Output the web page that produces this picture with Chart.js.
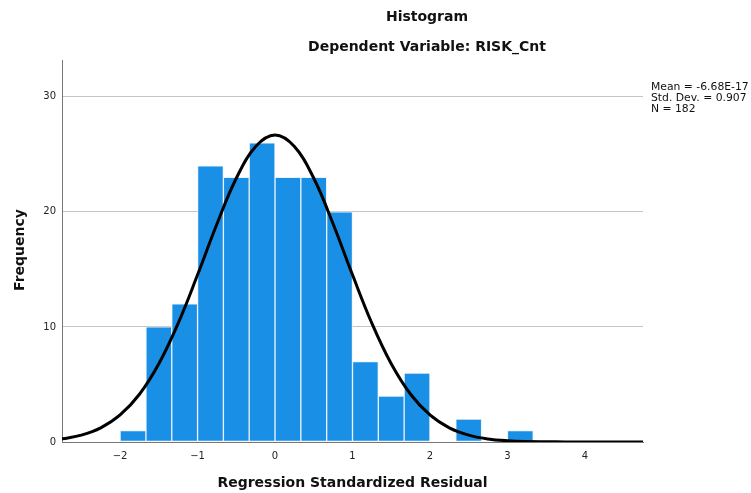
<!DOCTYPE html>
<html lang="en">
<head>
    <meta charset="UTF-8">
    <title>Histogram</title>
    <script src="https://cdn.jsdelivr.net/npm/chart.js"></script>
    <style>
        body {
            margin: 0;
            background: #ffffff;
        }
        #wrap {
            width: 751px;
            height: 493px;
            position: relative;
        }
    </style>
</head>
<body>
    <div id="wrap"><canvas id="hist" width="751" height="493"></canvas></div>

    <script>
        // histogram bins (width 1/3), centres and counts
        const binCenters = [-1.8333, -1.5, -1.1667, -0.8333, -0.5, -0.1667, 0.1667, 0.5,
                            0.8333, 1.1667, 1.5, 1.8333, 2.1667, 2.5, 2.8333, 3.1667];
        const binCounts = [1, 10, 12, 24, 23, 26, 23, 23, 20, 7, 4, 6, 0, 2, 0, 1];

        // normal curve
        const curveX = [-2.75, -2.5, -2.25, -2, -1.75, -1.5, -1.25, -1, -0.75, -0.5, -0.25, 0,
                        0.25, 0.5, 0.75, 1, 1.25, 1.5, 1.75, 2, 2.25, 2.5, 2.75, 3, 3.25,
                        3.5, 3.75, 4, 4.25, 4.5, 4.75];
        const curveY = [0.27, 0.6, 1.23, 2.35, 4.15, 6.8, 10.32, 14.53, 18.95, 22.92, 25.68, 26.68,
                        25.68, 22.92, 18.95, 14.53, 10.32, 6.8, 4.15, 2.35, 1.23, 0.6, 0.27, 0.11, 0.04,
                        0.02, 0.01, 0, 0, 0, 0];

        const xTicks = [-2, -1, 0, 1, 2, 3, 4];
        const yTicks = [0, 10, 20, 30];
        const statsLines = ["Mean = -6.68E-17", "Std. Dev. = 0.907", "N = 182"];

        const FONT = "'DejaVu Sans', sans-serif";

        // titles and the stats box
        const textPlugin = {
            id: "spssText",
            afterDraw(chart) {
                const ctx = chart.ctx;
                const area = chart.chartArea;
                ctx.save();
                ctx.fillStyle = "#111";
                ctx.textAlign = "center";
                ctx.textBaseline = "middle";
                ctx.font = "bold 14px " + FONT;
                ctx.fillText("Histogram", 427, 17);
                ctx.fillText("Dependent Variable: RISK_Cnt", 427, 47);

                ctx.fillText("Regression Standardized Residual", (area.left + area.right) / 2, 483);

                ctx.save();
                ctx.translate(20, 250);
                ctx.rotate(-Math.PI / 2);
                ctx.fillText("Frequency", 0, 0);
                ctx.restore();

                ctx.textAlign = "left";
                ctx.font = "10.8px " + FONT;
                statsLines.forEach((s, i) => {
                    ctx.fillText(s, 651, 87 + i * 11);
                });
                ctx.restore();
            }
        };

        const ctx = document.getElementById("hist").getContext("2d");
        new Chart(ctx, {
            type: "bar",
            data: {
                datasets: [
                    {
                        type: "line",
                        data: curveX.map((x, i) => ({ x: x, y: curveY[i] })),
                        borderColor: "#000000",
                        borderWidth: 3,
                        pointRadius: 0,
                        tension: 0.4,
                        fill: false,
                        order: 0
                    },
                    {
                        type: "bar",
                        data: binCenters.map((x, i) => ({ x: x, y: binCounts[i] })),
                        backgroundColor: "#1a8fe6",
                        borderColor: "#e8f2fb",
                        borderWidth: 1,
                        borderSkipped: false,
                        barPercentage: 1,
                        categoryPercentage: 1,
                        order: 1
                    }
                ]
            },
            options: {
                responsive: false,
                animation: false,
                events: [],
                layout: { padding: { top: 60, right: 108, left: 0, bottom: 0 } },
                plugins: {
                    legend: { display: false },
                    tooltip: { enabled: false }
                },
                scales: {
                    x: {
                        type: "linear",
                        offset: false,
                        min: -2.75,
                        max: 4.75,
                        afterBuildTicks(scale) {
                            scale.ticks = xTicks.map(v => ({ value: v }));
                        },
                        afterFit(scale) { scale.height = 51; },
                        grid: { display: false, drawTicks: false },
                        border: { color: "#777", width: 1 },
                        ticks: {
                            color: "#222",
                            padding: 8,
                            font: { family: FONT, size: 10 },
                            callback: v => (v < 0 ? "\u2212" + Math.abs(v) : String(v))
                        }
                    },
                    y: {
                        min: 0,
                        max: 33.2,
                        afterBuildTicks(scale) {
                            scale.ticks = yTicks.map(v => ({ value: v }));
                        },
                        afterFit(scale) { scale.width = 62; },
                        grid: { color: "#c4c4c4", drawTicks: false },
                        border: { color: "#777", width: 1 },
                        ticks: {
                            color: "#222",
                            padding: 6,
                            font: { family: FONT, size: 10 }
                        }
                    }
                }
            },
            plugins: [textPlugin]
        });
    </script>
</body>
</html>
